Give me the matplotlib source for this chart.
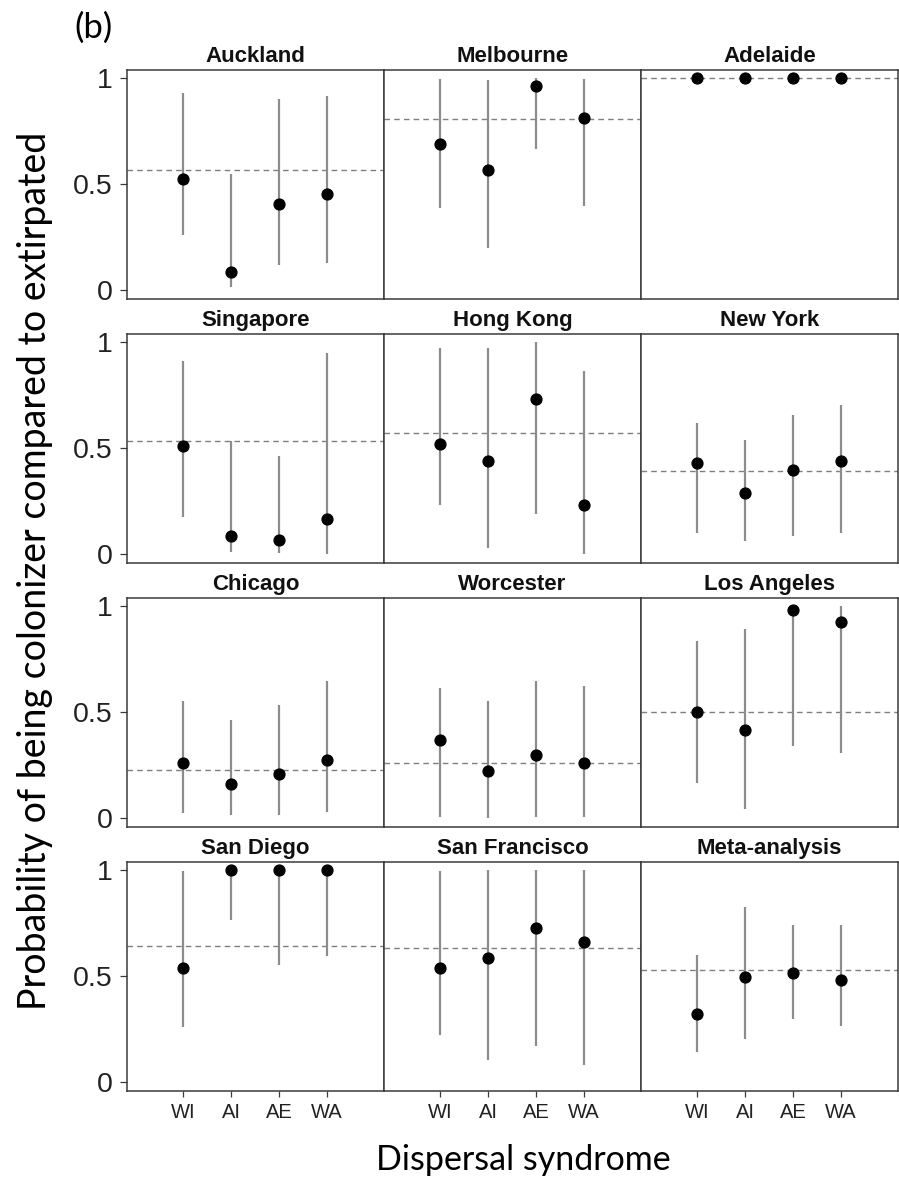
import matplotlib
matplotlib.use("Agg")
import matplotlib.pyplot as plt

plt.rcParams['font.family'] = ['Liberation Sans', 'DejaVu Sans']

cities = ["Auckland", "Melbourne", "Adelaide",
          "Singapore", "Hong Kong", "New York",
          "Chicago", "Worcester", "Los Angeles",
          "San Diego", "San Francisco", "Meta-analysis"]
syndromes = ["WI", "AI", "AE", "WA"]

# posterior estimate per city and syndrome
estimate = [
    [0.525, 0.088, 0.405, 0.453],
    [0.688, 0.567, 0.963, 0.810],
    [1.000, 1.000, 1.000, 1.000],
    [0.510, 0.088, 0.066, 0.165],
    [0.521, 0.437, 0.730, 0.232],
    [0.432, 0.290, 0.397, 0.440],
    [0.260, 0.163, 0.207, 0.276],
    [0.370, 0.221, 0.299, 0.263],
    [0.501, 0.414, 0.980, 0.923],
    [0.540, 1.000, 1.000, 1.000],
    [0.538, 0.585, 0.726, 0.659],
    [0.324, 0.496, 0.513, 0.482],
]
lower = [
    [0.263, 0.017, 0.120, 0.130],
    [0.388, 0.200, 0.664, 0.395],
    [1.000, 1.000, 1.000, 1.000],
    [0.178, 0.013, 0.008, 0.000],
    [0.232, 0.031, 0.188, 0.003],
    [0.099, 0.064, 0.086, 0.102],
    [0.028, 0.016, 0.016, 0.030],
    [0.006, 0.000, 0.005, 0.005],
    [0.169, 0.044, 0.341, 0.306],
    [0.261, 0.762, 0.551, 0.593],
    [0.222, 0.105, 0.170, 0.080],
    [0.142, 0.206, 0.300, 0.266],
]
upper = [
    [0.930, 0.547, 0.900, 0.914],
    [0.992, 0.989, 0.997, 0.994],
    [1.000, 1.000, 1.000, 1.000],
    [0.908, 0.531, 0.463, 0.947],
    [0.970, 0.969, 1.000, 0.860],
    [0.617, 0.538, 0.656, 0.702],
    [0.553, 0.462, 0.531, 0.646],
    [0.613, 0.552, 0.646, 0.622],
    [0.835, 0.888, 1.000, 1.000],
    [0.993, 1.000, 1.000, 1.000],
    [0.993, 0.997, 1.000, 1.000],
    [0.599, 0.824, 0.738, 0.738],
]
# overall proportion of colonizers in each city
overall = [0.564, 0.806, 1.000,
           0.532, 0.571, 0.390,
           0.229, 0.263, 0.501,
           0.640, 0.634, 0.530]

W, H = 899, 1184
fig = plt.figure(figsize=(W / 100, H / 100), dpi=100)

left0, col_w = 127, 257
top0, row_step, row_h = 70, 264, 229
frame_col = "#3a3a3a"
xpos = [1, 2, 3, 4]

for i, city in enumerate(cities):
    r, c = divmod(i, 3)
    x0 = left0 + c * col_w
    y_top = top0 + r * row_step
    ax = fig.add_axes([x0 / W, 1 - (y_top + row_h) / H, col_w / W, row_h / H])

    ax.axhline(overall[i], color="#7f7f7f", lw=1.0, ls=(0, (4, 3)), zorder=1)
    ax.vlines(xpos, lower[i], upper[i], color="#8c8c8c", lw=1.6, zorder=2)
    ax.plot(xpos, estimate[i], "o", color="black", ms=7.8, zorder=3)

    ax.set_xlim(-0.17, 5.19)
    ax.set_ylim(-0.04, 1.036)
    for s in ax.spines.values():
        s.set_color(frame_col)
        s.set_linewidth(1.1)

    ax.set_title(city, fontsize=16, fontweight="bold", pad=5.5, color="#111111")

    if c == 0:
        ax.set_yticks([0, 0.5, 1])
        ax.set_yticklabels(["0", "0.5", "1"])
        ax.tick_params(axis="y", labelsize=20.5, length=5, width=0.9,
                       color=frame_col, labelcolor="#222222", pad=5)
    else:
        ax.set_yticks([])

    if r == 3:
        ax.set_xticks(xpos)
        ax.set_xticklabels(syndromes)
        ax.tick_params(axis="x", labelsize=14.5, length=4, width=0.9,
                       color=frame_col, labelcolor="#222222", pad=5)
    else:
        ax.set_xticks([])

fig.text(35 / W, 1 - 571 / H,
         "Probability of being colonizer compared to extirpated",
         rotation=90, ha="center", va="center", fontsize=27,
         family=["Lato", "DejaVu Sans"])
fig.text(523 / W, 1 - 1160 / H, "Dispersal syndrome",
         ha="center", va="center", fontsize=24.5,
         family=["Lato", "DejaVu Sans"])
fig.text(74 / W, 1 - 28 / H, "(b)", ha="left", va="center", fontsize=25,
         family=["Lato", "DejaVu Sans"])

fig.savefig("out.png", dpi=100)
